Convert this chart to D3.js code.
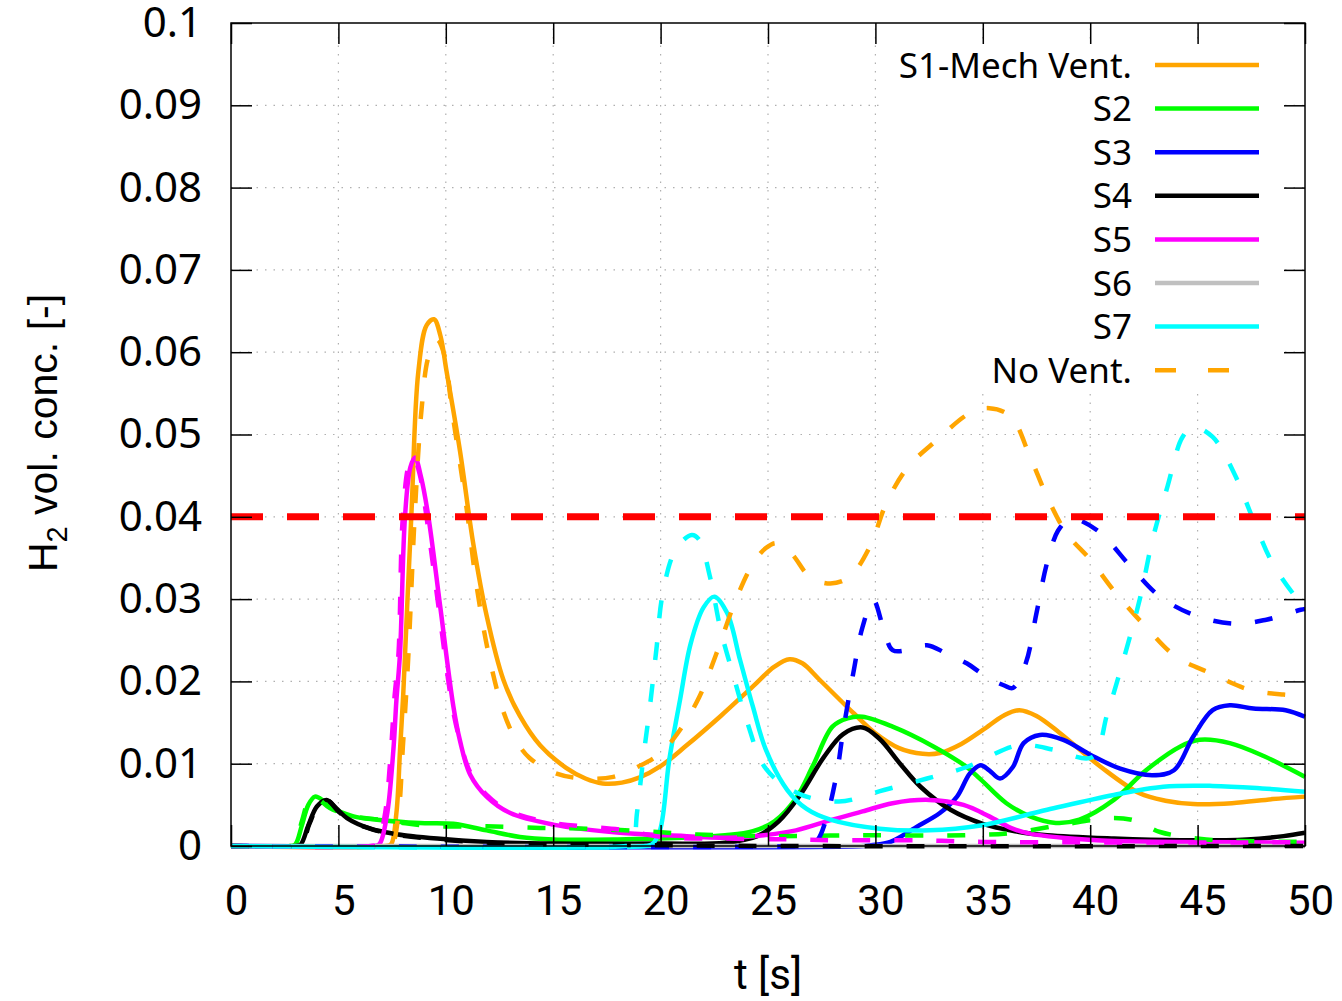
<!DOCTYPE html>
<html><head><meta charset="utf-8">
<script src="https://cdn.jsdelivr.net/npm/d3@7"></script>
<style>body{margin:0;background:#fff;} svg{display:block}</style>
</head><body><svg id="c" width="1342" height="1001"></svg>
<script>
const xTicks=[0,5,10,15,20,25,30,35,40,45,50];
const yTicks=[0,0.01,0.02,0.03,0.04,0.05,0.06,0.07,0.08,0.09,0.1];
const yTickLabels=["0","0.01","0.02","0.03","0.04","0.05","0.06","0.07","0.08","0.09","0.1"];
const legendLabels=["S1-Mech Vent.","S2","S3","S4","S5","S6","S7","No Vent."];
const threshold=[[0,0.04],[50,0.04]];

const s1=[[0,0],[7.2,0],[7.45,0.0002],[7.7,0.004],[7.87,0.0117],[8.02,0.0185],[8.2,0.029],[8.41,0.041],[8.72,0.0576],[9.11,0.0633],[9.45,0.064],[9.75,0.062],[10.04,0.0576],[10.66,0.048],[11.28,0.0367],[11.9,0.028],[12.68,0.0202],[13.45,0.0158],[14.4,0.0122],[15.6,0.0095],[16.5,0.0082],[17.3,0.0076],[18.2,0.0077],[19,0.0083],[20,0.0097],[21.2,0.0122],[22.8,0.0158],[24.3,0.0194],[25.3,0.0218],[26,0.0227],[26.6,0.0222],[27.4,0.0202],[29,0.0161],[30,0.0137],[31.1,0.0119],[32.2,0.0112],[33,0.0113],[34,0.0124],[35,0.0141],[36,0.0159],[36.7,0.0165],[37.5,0.0158],[38.6,0.0137],[40.5,0.0096],[42.3,0.0064],[43.5,0.0055],[44.8,0.0051],[46.6,0.0052],[48.5,0.0057],[50,0.006]];
const s2=[[0,0],[2.8,0],[3.0,0.0002],[3.3,0.0025],[3.6,0.005],[3.91,0.006],[4.3,0.0055],[4.6,0.0048],[5.7,0.0036],[6.8,0.0032],[8.8,0.0028],[10.35,0.0027],[11.9,0.0019],[13.45,0.0011],[15,0.0008],[18,0.0008],[21,0.001],[23,0.0013],[24.3,0.0018],[25.3,0.003],[26.3,0.0058],[27.1,0.0098],[28,0.0145],[28.7,0.0155],[29.4,0.0157],[30.8,0.0145],[32.7,0.0121],[34.25,0.0096],[34.9,0.0081],[36.1,0.0052],[37.2,0.0036],[38.4,0.0028],[39.5,0.0032],[41.1,0.0056],[42.6,0.0092],[44.2,0.0121],[45.1,0.0129],[46.5,0.0125],[48.1,0.0109],[50,0.0084]];
const s3=[[0,0],[29.5,0],[29.8,0.0001],[30.7,0.0005],[31.9,0.0023],[33.0,0.004],[33.8,0.006],[34.4,0.0088],[34.9,0.0098],[35.3,0.0092],[35.8,0.0082],[36.4,0.0096],[36.9,0.0125],[37.66,0.0135],[38.75,0.0129],[40,0.0111],[41.4,0.0094],[42.9,0.0086],[43.9,0.0092],[44.8,0.0133],[45.7,0.0165],[46.5,0.0171],[47.6,0.0167],[49.1,0.0165],[50,0.0157]];
const s4=[[0,0],[3.0,0],[3.25,0.0002],[3.6,0.0025],[4.0,0.0048],[4.45,0.0056],[4.9,0.0046],[5.4,0.0034],[6.5,0.0021],[7.55,0.0015],[9.6,0.0009],[11.9,0.0005],[15,0.0003],[20,0.0003],[23,0.0004],[24.5,0.0012],[25.5,0.003],[26.5,0.0062],[27.6,0.0108],[28.5,0.0136],[29.4,0.0144],[30.2,0.013],[31.15,0.01],[32.1,0.0072],[33.5,0.0044],[35,0.0027],[36.5,0.0018],[38,0.0013],[41.1,0.0009],[44.2,0.0007],[47.3,0.0008],[49,0.0012],[50,0.0016]];
const s5=[[0,0],[6.6,0],[6.9,0.0002],[7.25,0.0036],[7.56,0.0117],[7.7,0.0177],[7.87,0.0235],[8.1,0.04],[8.35,0.046],[8.57,0.0472],[8.85,0.0448],[9.19,0.04],[9.73,0.0293],[10.35,0.017],[10.66,0.0128],[11.13,0.0087],[11.9,0.006],[13,0.004],[15,0.0026],[18.1,0.0016],[20.4,0.0013],[23.2,0.001],[24.8,0.0013],[26.3,0.0019],[28,0.0032],[29.4,0.0042],[30.8,0.0052],[32.5,0.0056],[34.1,0.005],[35.3,0.0036],[36.3,0.0022],[37.2,0.0015],[40.3,0.0007],[44.2,0.0005],[50,0.0004]];
const s6=[[0,0],[50,0]];
const s7=[[0,0],[19.3,0],[19.6,0.0002],[19.97,0.0019],[20.4,0.0104],[20.9,0.0177],[21.4,0.0246],[22.0,0.029],[22.5,0.0303],[23.1,0.0283],[23.7,0.0226],[24.3,0.0169],[24.9,0.0117],[25.9,0.0068],[26.8,0.0045],[27.9,0.0032],[30.2,0.0021],[32.5,0.0019],[34.9,0.0025],[38,0.0044],[41.1,0.0062],[43.4,0.0072],[45.7,0.0073],[48,0.007],[50,0.0066]];

const s1nv=[[0,0],[7.2,0],[7.5,0.0002],[7.8,0.004],[8.0,0.012],[8.25,0.0228],[8.57,0.041],[8.88,0.0533],[9.2,0.0595],[9.6,0.0615],[9.95,0.0595],[10.27,0.0533],[10.97,0.041],[11.44,0.0315],[12.06,0.0225],[12.7,0.0162],[13.3,0.0127],[13.9,0.0107],[15.16,0.0088],[16.5,0.0082],[17.8,0.0084],[19,0.0097],[20,0.0113],[20.9,0.0141],[21.8,0.0181],[22.6,0.0234],[23.5,0.0299],[24.3,0.0343],[24.9,0.0362],[25.4,0.0368],[26.1,0.0355],[26.95,0.0327],[27.9,0.0319],[28.8,0.0327],[29.75,0.0364],[30.5,0.0416],[31.5,0.046],[32.85,0.0493],[34.4,0.0526],[35.3,0.0532],[36.3,0.0522],[37.2,0.0473],[38.0,0.0424],[38.9,0.038],[40,0.0348],[41.2,0.0307],[42.6,0.0266],[44,0.023],[45.6,0.021],[47.4,0.019],[49,0.0184],[50,0.0183]];
const s2nv=[[0,0],[2.8,0],[3.0,0.0002],[3.3,0.003],[3.7,0.0058],[4.1,0.0056],[4.6,0.0046],[5.7,0.0036],[6.9,0.0032],[8,0.0028],[9.4,0.0024],[11.9,0.0024],[14.4,0.0022],[16.56,0.0021],[19.2,0.0018],[21.7,0.0014],[24.8,0.0012],[29.4,0.0013],[34.1,0.0013],[36.4,0.0016],[38.75,0.0026],[41.1,0.0034],[42.2,0.003],[43.25,0.0017],[45.4,0.0008],[47,0.0006],[50,0.0005]];
const s3nv=[[0,0],[26.6,0],[26.9,0.0001],[27.3,0.0007],[27.7,0.0032],[28.2,0.0088],[28.5,0.014],[28.97,0.021],[29.4,0.0266],[29.9,0.0299],[30.4,0.0262],[30.8,0.0238],[31.5,0.0238],[32.4,0.0244],[33.3,0.0234],[34.25,0.0222],[35.2,0.0205],[36,0.0195],[36.4,0.0192],[37.0,0.0222],[37.5,0.0283],[38.0,0.0345],[38.5,0.0383],[39.05,0.0398],[39.5,0.0396],[40.5,0.038],[41.9,0.0339],[43.25,0.0303],[44.8,0.0281],[46.7,0.027],[48.2,0.0275],[49.8,0.0287],[50,0.0288]];
const s4nv=[[0,0],[3.0,0],[3.3,0.0002],[3.65,0.0027],[4.1,0.005],[4.5,0.0055],[5,0.0042],[5.6,0.003],[6.6,0.002],[7.6,0.0014],[9.6,0.0008],[12,0.0004],[15,0.0002],[20,0.0001],[25,0],[50,0]];
const s5nv=[[0,0],[6.5,0],[6.8,0.0002],[7.15,0.0036],[7.45,0.0117],[7.6,0.0177],[7.8,0.0235],[8.0,0.04],[8.3,0.0465],[8.5,0.0472],[8.8,0.045],[9.1,0.04],[9.65,0.0293],[10.3,0.017],[10.66,0.0128],[11.13,0.009],[11.9,0.0062],[13,0.0042],[15,0.0028],[18.1,0.002],[20.1,0.0011],[23,0.0009],[26,0.0008],[28,0.0007],[32,0.0007],[35,0.0005],[50,0.00045]];
const s7nv=[[0,0],[18.4,0],[18.7,0.0002],[18.9,0.004],[19.2,0.0108],[19.5,0.0169],[19.8,0.0238],[20.1,0.0307],[20.7,0.036],[21.45,0.0378],[21.8,0.0372],[22.3,0.0327],[22.8,0.0262],[23.4,0.0206],[24.0,0.0153],[24.9,0.0094],[26.4,0.0064],[28.3,0.0054],[30.4,0.0068],[32.4,0.0082],[34.25,0.0096],[36.4,0.0121],[37.3,0.0122],[38.3,0.0117],[40.1,0.0108],[40.8,0.0161],[41.5,0.0222],[42.3,0.0299],[42.9,0.0372],[43.6,0.0437],[44.3,0.0497],[44.8,0.0509],[45.7,0.0497],[46.7,0.0453],[47.6,0.0396],[48.5,0.0343],[49.8,0.0295],[50,0.029]];

const C={orange:"#ffa500",green:"#00ff00",blue:"#0000ff",black:"#000000",magenta:"#ff00ff",gray:"#c0c0c0",cyan:"#00ffff",red:"#ff0000"};

const L=231,R=1305,T=23,B=846;
const x=d3.scaleLinear().domain([0,50]).range([L,R]);
const y=d3.scaleLinear().domain([0,0.1]).range([B,T]);
const svg=d3.select("#c");

// grid
const g=svg.append("g").attr("stroke","#b0b0b0").attr("stroke-width",1.2).attr("stroke-dasharray","1.5,7");
g.selectAll(".gx").data(xTicks.slice(1,-1)).join("line").attr("x1",d=>x(d)).attr("x2",d=>x(d)).attr("y1",B).attr("y2",T);
g.selectAll(".gy").data(yTicks.slice(1,-1)).join("line").attr("y1",d=>y(d)).attr("y2",d=>y(d)).attr("x1",L).attr("x2",R);

// opaque key box
svg.append("rect").attr("x",885).attr("y",45).attr("width",395).attr("height",347).attr("fill","#fff");

const line=d3.line().x(d=>x(d[0])).y(d=>y(d[1])).curve(d3.curveCatmullRom.alpha(0.5));
const solids=[[s1,C.orange],[s2,C.green],[s3,C.blue],[s4,C.black],[s5,C.magenta],[s6,C.gray],[s7,C.cyan]];
const dashed=[[s1nv,C.orange],[s2nv,C.green],[s3nv,C.blue],[s4nv,C.black],[s5nv,C.magenta],[s7nv,C.cyan]];
const pg=svg.append("g").attr("fill","none").attr("stroke-linejoin","round");
solids.forEach(([d,c])=>pg.append("path").attr("d",line(d)).attr("stroke",c).attr("stroke-width",4.5));
dashed.forEach(([d,c])=>pg.append("path").attr("d",line(d)).attr("stroke",c).attr("stroke-width",4.5).attr("stroke-dasharray","18,24"));
pg.append("path").attr("d",d3.line().x(d=>x(d[0])).y(d=>y(d[1]))(threshold)).attr("stroke",C.red).attr("stroke-width",7).attr("stroke-dasharray","32,24");

// axes
function style(sel){sel.select(".domain").remove();sel.selectAll("line").attr("stroke","#000").attr("stroke-width",1.5);}
svg.append("g").attr("transform",`translate(${L},0)`).call(d3.axisLeft(y).tickValues(yTicks).tickFormat((d,i)=>yTickLabels[i]).tickSize(-21).tickPadding(29)).call(style)
  .selectAll("text").attr("font-family","'Noto Sans'").attr("font-size",42).attr("fill","#000");
svg.append("g").attr("transform",`translate(${R},0)`).call(d3.axisRight(y).tickValues(yTicks).tickFormat("").tickSize(-21)).call(style);
svg.append("g").attr("transform",`translate(0,${T})`).call(d3.axisTop(x).tickValues(xTicks).tickFormat("").tickSize(-21)).call(style);
svg.append("g").attr("transform",`translate(0,${B})`).call(d3.axisBottom(x).tickValues(xTicks).tickFormat(d3.format("d")).tickSize(-21).tickPadding(39)).call(style)
  .selectAll("text").attr("font-family","Roboto").attr("font-size",42).attr("fill","#000").attr("dx",5);
svg.append("rect").attr("x",L).attr("y",T).attr("width",R-L).attr("height",B-T).attr("fill","none").attr("stroke","#000").attr("stroke-width",1.5);

// titles
svg.append("text").attr("x",768).attr("y",989).attr("text-anchor","middle").attr("font-family","Roboto").attr("font-size",42).text("t [s]");
const yt=svg.append("text").attr("transform","translate(57,433) rotate(-90)").attr("text-anchor","middle").attr("font-family","'Liberation Sans'").attr("font-size",41);
yt.append("tspan").text("H");
yt.append("tspan").attr("font-size",29).attr("dy",10).text("2");
yt.append("tspan").attr("dy",-10).text(" vol. conc. [-]");

// legend
const legColors=[C.orange,C.green,C.blue,C.black,C.magenta,C.gray,C.cyan,C.orange];
const lg=svg.append("g");
legendLabels.forEach((t,i)=>{
  const yy=65+i*43.6;
  lg.append("text").attr("x",1132).attr("y",yy).attr("dy","0.36em").attr("text-anchor","end").attr("font-family","'Noto Sans'").attr("font-size",35).text(t);
  const ln=lg.append("line").attr("x1",1155).attr("x2",1259).attr("y1",yy).attr("y2",yy).attr("stroke",legColors[i]).attr("stroke-width",4.5);
  if(i===7) ln.attr("stroke-dasharray","21,32");
});
</script></body></html>
